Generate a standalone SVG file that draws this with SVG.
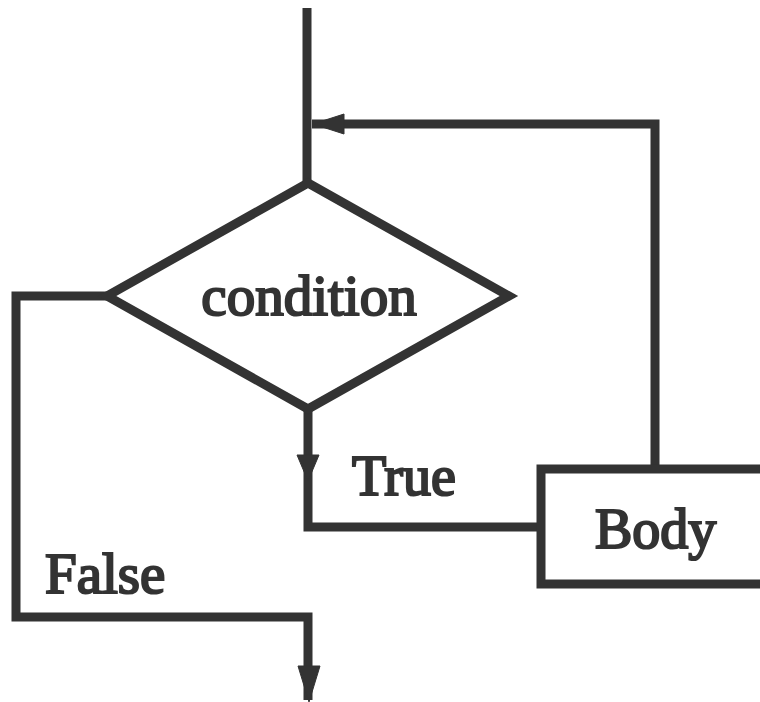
<svg xmlns="http://www.w3.org/2000/svg" width="760" height="702" viewBox="0 0 760 702">
<style>
.ln{fill:none;stroke:#333;stroke-width:9;stroke-linejoin:miter;stroke-linecap:butt}
.ah{fill:#333;stroke:#333;stroke-width:1}
.tx{font-family:"Liberation Serif","Times New Roman",serif;fill:#333;stroke:#333;stroke-width:2.2}
</style>
<rect width="760" height="702" fill="#fff"/>
<g id="connectors">
<path class="ln" d="M307 8 V183"/>
<path class="ln" d="M655 469 V124 H312"/>
<polygon class="ah" points="313,124 344,114 344,134"/>
<path class="ln" d="M308 409 V527 H541"/>
<polygon class="ah" points="308,481 297,455 319,455"/>
<path class="ln" d="M107 296 H16 V617 H308 V700"/>
<polygon class="ah" points="309,702 298,666 320,666"/>
</g>
<g id="condition">
<polygon class="ln" points="308,183 509,296 308,409 107,296"/>
<text class="tx" x="309" y="315" font-size="57" text-anchor="middle">condition</text>
</g>
<g id="body">
<rect class="ln" x="541" y="469" width="240" height="115"/>
<text class="tx" x="595" y="548" font-size="56">Body</text>
</g>
<g id="labels">
<text class="tx" x="352" y="495" font-size="56">True</text>
<text class="tx" x="45" y="593" font-size="57">False</text>
</g>
</svg>
